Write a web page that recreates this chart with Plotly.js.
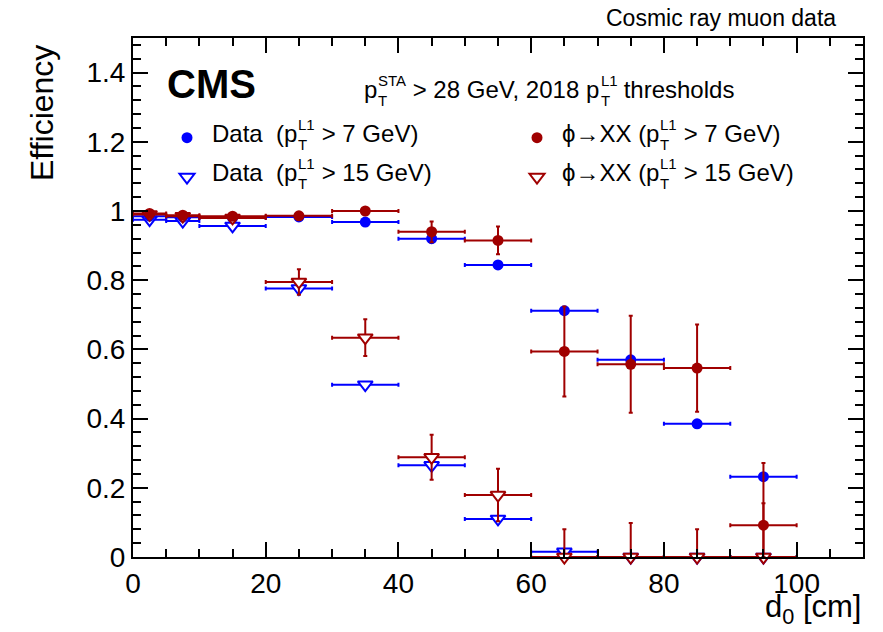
<!DOCTYPE html>
<html>
<head>
<meta charset="utf-8">
<script src="https://cdn.plot.ly/plotly-3.0.1.min.js"></script>
<style>html,body{margin:0;padding:0;background:#fff;}#plot{width:883px;height:632px;}</style>
</head>
<body>
<div id="plot"></div>
<script>
// bin centres and half-widths of d0 [cm]
const d0Centers = [2.5, 7.5, 15, 25, 35, 45, 55, 65, 75, 85, 95];
const d0HalfWidth = [2.5, 2.5, 5, 5, 5, 5, 5, 5, 5, 5, 5];

// Data, pT(L1) > 7 GeV
const data7 = [0.985, 0.982, 0.980, 0.983, 0.968, 0.920, 0.844, 0.712, 0.570, 0.385, 0.232];
const data7Err = [0.004, 0.004, 0.004, 0.004, 0.005, 0.010, 0.006, 0.006, 0.006, 0.006, 0.006];
// Data, pT(L1) > 15 GeV
const data15 = [0.975, 0.971, 0.957, 0.776, 0.498, 0.265, 0.110, 0.015, 0.0, 0.0, 0.0];
const data15Err = [0.004, 0.004, 0.004, 0.006, 0.006, 0.006, 0.006, 0.004, 0.002, 0.002, 0.002];
// phi -> XX simulation, pT(L1) > 7 GeV
const sig7 = [0.993, 0.988, 0.985, 0.986, 1.000, 0.940, 0.915, 0.594, 0.557, 0.546, 0.092];
const sig7Err = [0.008, 0.008, 0.006, 0.006, 0.006, 0.030, 0.040, 0.130, 0.140, 0.126, 0.180];
// phi -> XX simulation, pT(L1) > 15 GeV
const sig15 = [0.990, 0.985, 0.980, 0.795, 0.634, 0.288, 0.179, 0.0, 0.0, 0.0, 0.0];
const sig15Err = [0.008, 0.008, 0.008, 0.037, 0.053, 0.065, 0.076, 0.080, 0.098, 0.080, 0.155];

// text pieces: plain strings, or [superscript, subscript] stacked pairs
const headerText = ['p', ['STA', 'T'], ' > 28 GeV, 2018 p', ['L1', 'T'], ' thresholds'];
const legendData7 = ['Data  (p', ['L1', 'T'], ' > 7 GeV)'];
const legendData15 = ['Data  (p', ['L1', 'T'], ' > 15 GeV)'];
const legendSig7 = ['ϕ→XX (p', ['L1', 'T'], ' > 7 GeV)'];
const legendSig15 = ['ϕ→XX (p', ['L1', 'T'], ' > 15 GeV)'];

const BLUE = '#0000ff';
const RED = '#a00000';
const FONTNAME = 'Liberation Sans';
const FONT = '"Liberation Sans", Arial, Helvetica, sans-serif';

// plot frame in pixels (from margins)
const W = 883, H = 632, ML = 133, MR = 20, MT = 38, MB = 75;
const PW = W - ML - MR, PH = H - MT - MB;
const px2x = p => (p - ML) / PW;
const px2y = p => (H - MB - p) / PH;

const cv = document.createElement('canvas').getContext('2d');
function measure(t, size) { cv.font = size + 'px "' + FONTNAME + '"'; return cv.measureText(t).width; }

// build annotations for a text with stacked sub/superscripts (ROOT style)
function richText(parts, x0, yc, size) {
  const small = Math.round(size * 0.62);
  const out = [];
  let x = x0;
  parts.forEach(p => {
    if (typeof p === 'string') {
      out.push({xref: 'paper', yref: 'paper', x: px2x(x), y: px2y(yc), xanchor: 'left', yanchor: 'middle',
        text: p.replace(/ /g, '\u00a0'), showarrow: false, borderpad: 0, font: {family: FONT, size: size, color: '#000'}});
      x += measure(p, size);
    } else {
      const sup = p[0], sub = p[1];
      const lineGap = small * 1.3;
      const supC = yc - 0.36 * size;
      out.push({xref: 'paper', yref: 'paper', x: px2x(x + 1), y: px2y(supC + lineGap / 2), xanchor: 'left', yanchor: 'middle',
        text: sup + '<br>' + sub, align: 'left', showarrow: false, borderpad: 0,
        font: {family: FONT, size: small, color: '#000'}});
      x += Math.max(measure(sup, small), measure(sub, small)) + 1;
    }
  });
  return out;
}

function trace(y, err, color, filled, legendId) {
  return {
    type: 'scatter', mode: 'markers', x: d0Centers, y: y, name: '\u00a0', legend: legendId,
    marker: filled
      ? {symbol: 'circle', size: 11, color: color, line: {width: 0}}
      : {symbol: 'triangle-down', size: 13, color: '#ffffff', line: {width: 2, color: color}},
    error_y: {type: 'data', symmetric: false, array: err, arrayminus: err.map((e, i) => Math.min(e, y[i])),
      visible: true, color: color, thickness: 2, width: 2},
    error_x: {type: 'data', array: d0HalfWidth, visible: true, color: color, thickness: 2, width: 2},
    cliponaxis: false
  };
}

const traces = [
  trace(data7, data7Err, BLUE, true, 'legend'),
  trace(data15, data15Err, BLUE, false, 'legend'),
  trace(sig7, sig7Err, RED, true, 'legend2'),
  trace(sig15, sig15Err, RED, false, 'legend2')
];
// draw order: open markers first, red on top of blue
const drawOrder = [traces[1], traces[0], traces[3], traces[2]];
drawOrder[0].legendrank = 2; drawOrder[1].legendrank = 1; drawOrder[2].legendrank = 2; drawOrder[3].legendrank = 1;

const axisCommon = {
  showgrid: false, zeroline: false, showline: true, linecolor: '#000', linewidth: 2,
  mirror: 'allticks', ticks: 'inside', tickcolor: '#000', tickwidth: 2,
  tickfont: {family: FONT, size: 28, color: '#000'}
};

const legendCommon = {
  orientation: 'v', xanchor: 'left', yanchor: 'top', bgcolor: 'rgba(0,0,0,0)', borderwidth: 0,
  font: {family: FONT, size: 28, color: '#000'}, traceorder: 'normal', itemclick: false
};

const annotations = [
  {xref: 'paper', yref: 'paper', x: px2x(838), y: px2y(18), xanchor: 'right', yanchor: 'middle',
   text: 'Cosmic ray muon data', showarrow: false, font: {family: FONT, size: 23, color: '#000'}},
  {xref: 'paper', yref: 'paper', x: px2x(165), y: px2y(84), xanchor: 'left', yanchor: 'middle',
   text: '<b>CMS</b>', showarrow: false, font: {family: FONT, size: 40, color: '#000'}},
  {xref: 'paper', yref: 'paper', x: 1.0, y: px2y(609), xanchor: 'right', yanchor: 'middle',
   text: 'd<sub>0</sub> [cm]', showarrow: false, font: {family: FONT, size: 31, color: '#000'}},
  {xref: 'paper', yref: 'paper', x: px2x(42), y: px2y(43), xanchor: 'center', yanchor: 'top', textangle: -90,
   text: 'Efficiency', showarrow: false, font: {family: FONT, size: 32, color: '#000'}}
].concat(
  richText(headerText, 363, 89, 24),
  richText(legendData7, 211, 133, 24),
  richText(legendData15, 211, 172, 24),
  richText(legendSig7, 561, 133, 24),
  richText(legendSig15, 561, 172, 24)
);

const layout = {
  width: W, height: H,
  margin: {l: ML, r: MR, t: MT, b: MB},
  paper_bgcolor: '#fff', plot_bgcolor: '#fff',
  font: {family: FONT, color: '#000'},
  xaxis: Object.assign({}, axisCommon, {
    range: [0, 110], tick0: 0, dtick: 20, ticklen: 15,
    minor: {dtick: 5, ticklen: 8, ticks: 'inside', tickwidth: 2, tickcolor: '#000', showgrid: false}
  }),
  yaxis: Object.assign({}, axisCommon, {
    range: [0, 1.5], tick0: 0, dtick: 0.2, ticklen: 15,
    minor: {dtick: 0.04, ticklen: 8, ticks: 'inside', tickwidth: 2, tickcolor: '#000', showgrid: false}
  }),
  showlegend: true,
  legend: Object.assign({}, legendCommon, {x: px2x(167), y: px2y(113)}),
  legend2: Object.assign({}, legendCommon, {x: px2x(517), y: px2y(113)}),
  annotations: annotations
};

Plotly.newPlot('plot', drawOrder, layout, {displayModeBar: false, staticPlot: true});
</script>
</body>
</html>
